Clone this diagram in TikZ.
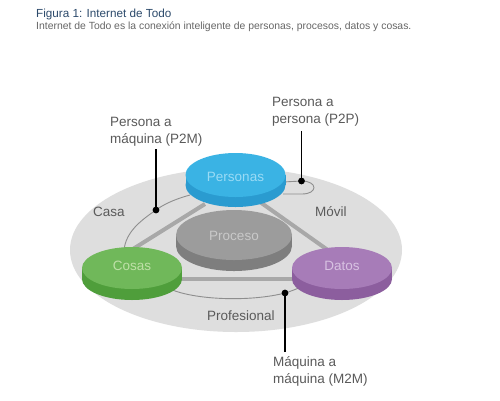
\documentclass[tikz,border=0pt]{standalone}
\usepackage{fontspec}
\setmainfont{Liberation Sans}
\usetikzlibrary{shapes.geometric}
\definecolor{bgell}{HTML}{DEDEDE}
\definecolor{conn}{HTML}{A8A8A8}
\definecolor{thin}{HTML}{8E8E8E}
\definecolor{persTop}{HTML}{3AB3E4}
\definecolor{persSide}{HTML}{2A9BD0}
\definecolor{persText}{HTML}{9ADBF5}
\definecolor{procTop}{HTML}{9C9C9C}
\definecolor{procSide}{HTML}{7E7E7E}
\definecolor{procText}{HTML}{C9C9C9}
\definecolor{cosTop}{HTML}{70B85A}
\definecolor{cosSide}{HTML}{4F9E3B}
\definecolor{cosText}{HTML}{BFE0A8}
\definecolor{datTop}{HTML}{A77CB8}
\definecolor{datSide}{HTML}{8C5E9E}
\definecolor{datText}{HTML}{D8C2E2}
\definecolor{labelgray}{HTML}{5A5A5A}
\definecolor{titleblue}{HTML}{2C4A6B}
\definecolor{subgray}{HTML}{666666}
\begin{document}
\begin{tikzpicture}[x=1pt,y=-1pt,
  lbl/.style={inner sep=0pt, text=labelgray, font=\fontsize{13.5}{17}\selectfont, align=left},
  disklbl/.style={inner sep=0pt, anchor=base, font=\fontsize{13.5}{16}\selectfont},
  disktop/.style={ellipse, draw=none, inner sep=0pt},
  thick conn/.style={draw=conn, line width=4pt},
  thin conn/.style={draw=thin, line width=0.9pt},
  callout/.style={draw=black, line width=1.3pt},
  dot/.style={circle, fill=black, inner sep=0pt, minimum size=6.8pt}]
\useasboundingbox[fill=white] (0,0) rectangle (500,400);

% title
\node[anchor=base west, inner sep=0pt, text=titleblue, font=\fontsize{11.7}{14}\selectfont] (title) at (36,17) {Figura 1: Internet de Todo};
\node[anchor=base west, inner sep=0pt, text=subgray, font=\fontsize{10.4}{12}\selectfont] (subtitle) at (36,29.8) {Internet de Todo es la conexión inteligente de personas, procesos, datos y cosas.};

% big background ellipse
\fill[bgell] (236,250) ellipse [x radius=166, y radius=82];

% thick connectors
\coordinate (pc1) at (205,204);
\coordinate (pc2) at (133,249);
\coordinate (pd1) at (260,202);
\coordinate (pd2) at (332,253);
\coordinate (cd1) at (178,279);
\coordinate (cd2) at (296,279);
\draw[thick conn] (pc1) -- (pc2);
\draw[thick conn] (pd1) -- (pd2);
\draw[thick conn] (cd1) -- (cd2);

% thin curves
\coordinate (p2mpt) at (156,210);
\coordinate (p2ppt) at (301.5,181);
\coordinate (m2mpt) at (285,293);
\draw[thin conn] (190,195) .. controls (172,200) and (163,205) .. (p2mpt)
  .. controls (140,221) and (126,232) .. (124,250);
\draw[thin conn] (283,182) -- (p2ppt) .. controls (318,181) and (318,194) .. (302,194) -- (283,194);
\draw[thin conn] (170,289) .. controls (195,300) and (250,302) .. (m2mpt)
  .. controls (290,291.5) and (294,290) .. (301,287);

% disks
\fill[procSide] (176,235) rectangle (292,246);
\fill[procSide] (234,246) ellipse [x radius=58, y radius=25];
\node[disktop, fill=procTop, minimum width=116pt, minimum height=50pt] (proceso) at (234,235) {};
\node[disklbl, text=procText] (procesolbl) at (234,240.5) {Proceso};

\fill[persSide] (185.5,175) rectangle (285.5,185);
\fill[persSide] (235.5,185) ellipse [x radius=50, y radius=22];
\node[disktop, fill=persTop, minimum width=100pt, minimum height=44pt] (personas) at (235.5,175) {};
\node[disklbl, text=persText] (personaslbl) at (235.5,181.5) {Personas};

\fill[cosSide] (82,268) rectangle (182,279);
\fill[cosSide] (132,279) ellipse [x radius=50, y radius=21];
\node[disktop, fill=cosTop, minimum width=100pt, minimum height=42pt] (cosas) at (132,268) {};
\node[disklbl, text=cosText] (cosaslbl) at (132,270.5) {Cosas};

\fill[datSide] (292,268) rectangle (392,279);
\fill[datSide] (342,279) ellipse [x radius=50, y radius=21];
\node[disktop, fill=datTop, minimum width=100pt, minimum height=42pt] (datos) at (342,268) {};
\node[disklbl, text=datText] (datoslbl) at (342,270.5) {Datos};

% labels
\node[lbl, anchor=north west] (p2mlabel) at (110,116.8) {Persona a\\máquina (P2M)};
\node[lbl, anchor=north west] (p2plabel) at (272,96.8) {Persona a\\persona (P2P)};
\node[lbl, anchor=north west] (m2mlabel) at (273,356.5) {Máquina a\\máquina (M2M)};
\node[lbl, anchor=base west] (casa) at (93,216.5) {Casa};
\node[lbl, anchor=base west] (movil) at (315,216.5) {Móvil};
\node[lbl, anchor=base west] (prof) at (207,320.5) {Profesional};

% dots and callouts
\node[dot] (p2mdot) at (p2mpt) {};
\node[dot] (p2pdot) at (p2ppt) {};
\node[dot] (m2mdot) at (m2mpt) {};
\draw[callout, shorten <=3pt] (p2mlabel.south -| p2mdot) -- (p2mdot.center);
\draw[callout, shorten <=4.5pt] (p2plabel.south -| p2pdot) -- (p2pdot.center);
\draw[callout, shorten <=4.5pt] (m2mlabel.north -| m2mdot) -- (m2mdot.center);
\end{tikzpicture}
\end{document}
